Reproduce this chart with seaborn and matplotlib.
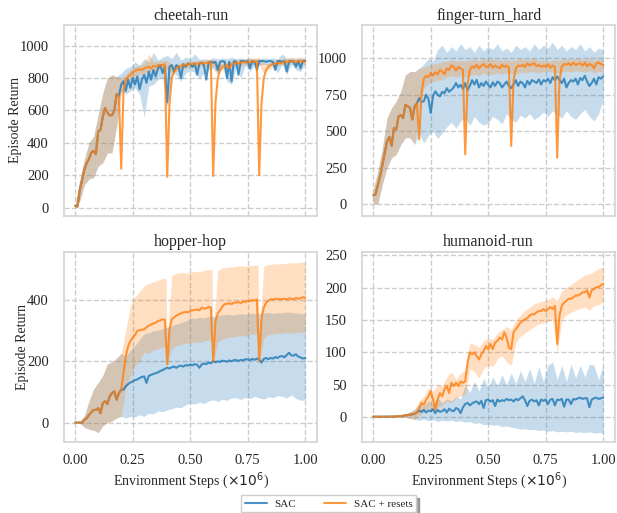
import numpy as np
import matplotlib
matplotlib.use("Agg")
import matplotlib.pyplot as plt
import seaborn as sns

# === x positions (env steps, x1e6) ===
steps = np.round(np.arange(101) * 0.01, 2)       # mean curves
band_steps = np.round(np.arange(51) * 0.02, 2)   # shaded bands
# hopper resets band has a few extra points around the reset dips
hopper_reset_band_x = np.sort(np.concatenate(
    [band_steps, [0.395, 0.405, 0.595, 0.605, 0.795, 0.805]]))

# === cheetah-run ===
cheetah_shared = [10, 5, 110, 170, 235, 275, 300, 340, 350, 330,
                  470, 480, 560, 615, 585, 570, 570, 600, 700, 690]
cheetah_sac = [760, 780, 720, 790, 740, 800, 760, 810, 730, 790,
               820, 770, 840, 790, 850, 810, 860, 880, 830, 870,
               650, 870, 880, 840, 880, 870, 800, 885, 870, 890,
               885, 870, 890, 820, 890, 895, 880, 790, 895, 900,
               895, 900, 850, 900, 905, 900, 800, 900, 780, 905,
               900, 820, 905, 905, 900, 905, 860, 905, 900, 850,
               905, 905, 905, 900, 905, 905, 900, 850, 905, 905,
               900, 905, 840, 905, 905, 900, 870, 905, 860, 905,
               905]
cheetah_reset = [240, 720, 790, 810, 820, 835, 845, 850, 855, 850,
                 860, 865, 870, 860, 875, 870, 880, 875, 880, 885,
                 190, 640, 800, 840, 860, 870, 875, 880, 880, 885,
                 885, 890, 885, 890, 890, 895, 890, 895, 895, 900,
                 195, 650, 800, 850, 870, 875, 880, 860, 885, 890,
                 895, 890, 895, 900, 895, 900, 900, 905, 900, 905,
                 200, 640, 800, 850, 870, 880, 885, 890, 895, 890,
                 895, 900, 900, 905, 900, 905, 900, 905, 905, 900,
                 900]
cheetah_band_lo_shared = [0, 40, 140, 175, 185, 256, 277, 338, 338, 500]
cheetah_band_hi_shared = [20, 170, 300, 400, 440, 575, 708, 800, 820, 810]
cheetah_sac_lo = [720, 700, 720, 740, 700, 560, 750, 760, 790, 800,
                  620, 830, 820, 780, 830, 845, 835, 800, 830, 850,
                  860, 820, 870, 780, 760, 870, 800, 880, 840, 880,
                  880, 885, 880, 885, 830, 885, 820, 885, 850, 840,
                  885]
cheetah_sac_hi = [830, 860, 870, 900, 880, 920, 900, 960, 910, 930,
                  940, 920, 960, 910, 930, 920, 950, 915, 920, 915,
                  925, 920, 925, 920, 930, 920, 925, 920, 925, 920,
                  920, 925, 920, 925, 920, 950, 920, 925, 920, 925,
                  920]
cheetah_reset_lo = [700, 760, 790, 810, 820, 830, 840, 840, 850, 860,
                    855, 830, 840, 850, 860, 865, 865, 870, 870, 875,
                    870, 830, 850, 860, 865, 875, 875, 880, 880, 885,
                    880, 830, 850, 865, 875, 880, 885, 885, 885, 890,
                    885]
cheetah_reset_hi = [800, 820, 850, 870, 880, 890, 950, 900, 905, 910,
                    910, 880, 880, 895, 900, 905, 905, 910, 910, 915,
                    915, 890, 890, 900, 905, 915, 915, 920, 920, 925,
                    925, 890, 890, 905, 915, 920, 925, 925, 925, 930,
                    920]

# === finger-turn_hard ===
finger_shared = [60, 65, 130, 190, 270, 350, 430, 460, 400, 520,
                 510, 600, 610, 590, 680, 670, 660, 580, 670, 690]
finger_sac = [727, 700, 705, 750, 720, 625, 740, 773, 750, 739,
              770, 760, 795, 770, 784, 800, 830, 800, 818, 790,
              830, 780, 810, 850, 820, 852, 800, 830, 810, 840,
              818, 800, 835, 810, 840, 830, 800, 820, 840, 810,
              795, 820, 850, 810, 840, 830, 800, 845, 820, 850,
              841, 830, 855, 820, 850, 841, 860, 830, 870, 850,
              875, 850, 830, 860, 800, 830, 850, 840, 860, 820,
              864, 850, 880, 840, 810, 830, 860, 820, 870, 860,
              875]
finger_reset = [443, 760, 860, 880, 870, 898, 880, 905, 890, 920,
                909, 890, 930, 920, 950, 943, 915, 940, 930, 920,
                341, 820, 920, 945, 935, 955, 930, 950, 960, 940,
                943, 960, 935, 950, 940, 932, 955, 940, 950, 935,
                398, 850, 930, 950, 945, 955, 940, 965, 950, 960,
                966, 945, 955, 940, 950, 943, 960, 935, 950, 940,
                318, 850, 945, 960, 955, 966, 950, 970, 955, 960,
                966, 950, 970, 945, 960, 955, 930, 965, 970, 960,
                955]
finger_band_lo_shared = [0, 0, 136, 250, 318, 340, 409, 455, 455, 409]
finger_band_hi_shared = [100, 227, 386, 590, 660, 705, 773, 886, 909, 909]
finger_sac_lo = [480, 420, 470, 500, 450, 488, 530, 560, 520, 570,
                 590, 540, 600, 560, 540, 557, 600, 580, 550, 620,
                 580, 560, 610, 590, 620, 580, 600, 630, 602, 640,
                 610, 590, 640, 600, 580, 620, 650, 600, 570, 620,
                 716]
finger_sac_hi = [930, 960, 1000, 980, 1060, 1090, 1040, 1080, 1050, 1100,
                 1060, 1080, 1040, 1090, 1050, 1080, 1060, 1100, 1050, 1070,
                 1040, 1090, 1060, 1080, 1050, 1100, 1060, 1090, 1070, 1110,
                 1060, 1090, 1050, 1080, 1060, 1100, 1050, 1080, 1040, 1070,
                 1057]
finger_reset_lo = [680, 790, 830, 840, 850, 852, 870, 880, 870, 880,
                   870, 880, 890, 880, 900, 886, 890, 900, 890, 900,
                   895, 890, 905, 900, 910, 905, 900, 910, 909, 905,
                   900, 905, 910, 905, 915, 910, 905, 915, 900, 910,
                   909]
finger_reset_hi = [930, 940, 950, 960, 965, 977, 980, 990, 980, 985,
                   980, 990, 995, 985, 1000, 989, 995, 990, 985, 995,
                   980, 990, 1000, 990, 995, 1000, 985, 990, 977, 990,
                   985, 995, 1000, 990, 1000, 995, 990, 1000, 985, 995,
                   989]

# === hopper-hop ===
hopper_shared = [0, 0, 0, 0, 9, 14, 25, 33, 41, 41,
                 47, 30, 63, 69, 60, 85, 96, 101, 74, 96,
                 107]
hopper_sac = [107, 118, 125, 130, 134, 138, 140, 145, 148, 150,
              129, 152, 155, 158, 161, 163, 168, 170, 175, 178,
              176, 180, 182, 178, 183, 185, 182, 187, 185, 189,
              186, 190, 188, 178, 189, 192, 190, 195, 193, 200,
              196, 199, 197, 201, 200, 198, 202, 199, 203, 203,
              200, 204, 202, 206, 205, 203, 207, 204, 208, 205,
              195, 207, 210, 206, 210, 208, 213, 210, 215, 216,
              212, 220, 227, 218, 218, 222, 214, 212, 208, 210]
hopper_reset = [161, 216, 248, 265, 276, 285, 298, 300, 302, 303,
                310, 315, 319, 322, 325, 330, 332, 336, 334, 189,
                303, 336, 342, 348, 352, 355, 358, 360, 358, 363,
                365, 366, 368, 365, 374, 370, 372, 376, 374, 200,
                330, 355, 365, 378, 385, 386, 388, 385, 390, 390,
                392, 388, 394, 392, 396, 395, 398, 397, 400, 200,
                340, 374, 390, 396, 401, 400, 403, 401, 402, 401,
                403, 400, 404, 402, 401, 405, 403, 404, 408, 406]
hopper_band_lo_shared = [0, -2, -16, -22, -25, -33, -11, 0, 5, 15, 20]
hopper_band_hi_shared = [0, 3, 22, 70, 109, 130, 153, 191, 196, 210, 225]
hopper_sac_lo = [15, 20, 18, 25, 20, 30, 28, 38, 35, 41,
                 45, 50, 48, 58, 63, 60, 66, 62, 70, 74,
                 68, 76, 72, 80, 80, 75, 82, 78, 85, 80,
                 76, 84, 80, 88, 85, 80, 90, 78, 72, 74]
hopper_sac_hi = [215, 235, 250, 270, 289, 292, 298, 300, 305, 310,
                 315, 320, 325, 330, 341, 338, 342, 340, 346, 345,
                 348, 350, 352, 350, 352, 354, 352, 356, 354, 355,
                 356, 358, 355, 358, 357, 360, 358, 356, 355, 353]
hopper_reset_lo = [110, 150, 185, 200, 229, 225, 235, 240, 245,
                   246, 180, 200,
                   240, 250, 255, 258, 259, 262, 260, 266, 268,
                   268, 190, 210,
                   262, 272, 276, 278, 280, 283, 280, 286, 288,
                   288, 190, 215,
                   275, 285, 288, 290, 290, 293, 290, 292, 295, 290]
hopper_reset_hi = [300, 380, 410, 425, 445, 452, 458, 463, 468,
                   470, 200, 330,
                   478, 485, 488, 486, 488, 492, 490, 495, 497,
                   498, 210, 340,
                   495, 503, 505, 506, 508, 510, 508, 511, 512,
                   512, 210, 340,
                   508, 514, 516, 515, 518, 517, 520, 519, 522, 521]

# === humanoid-run ===
humanoid_shared = [0.5, 0.5, 0.5, 0.5, 0.5, 0.5, 0.6, 0.6, 0.7, 0.8,
                   1.0, 1.2, 1.5, 2, 2.5, 3, 3.5, 4, 5, 7]
humanoid_sac = [10, 8, 11, 7, 10, 9, 12, 6, 11, 8,
                9, 12, 7, 13, 10, 9, 14, 12, 6, 15,
                20, 22, 18, 21, 23, 24, 20, 25, 14, 26,
                27, 24, 26, 17, 27, 24, 26, 25, 28, 26,
                27, 24, 28, 26, 29, 32, 26, 17, 25, 27,
                24, 26, 18, 27, 25, 27, 20, 27, 28, 18,
                27, 26, 28, 16, 27, 27, 20, 28, 27, 29,
                30, 28, 29, 29, 15, 27, 29, 30, 28, 29,
                30]
humanoid_reset = [14, 22, 19, 27, 32, 40, 27, 11, 27, 37,
                  32, 43, 48, 37, 53, 48, 53, 48, 55, 53,
                  55, 84, 100, 97, 100, 94, 89, 97, 102, 110,
                  105, 113, 105, 115, 118, 123, 120, 131, 123, 107,
                  105, 131, 136, 141, 146, 149, 151, 153, 157, 159,
                  159, 162, 164, 164, 167, 164, 167, 170, 167, 172,
                  113, 157, 172, 177, 180, 183, 183, 185, 188, 188,
                  190, 193, 193, 196, 185, 196, 198, 201, 201, 204,
                  206]
humanoid_band_lo_shared = [0, 0, 0, 0, 0, 0, 0, -0.5, -2, -4]
humanoid_band_hi_shared = [1, 1, 1, 1, 1, 1.5, 2, 5, 8, 12]
humanoid_sac_lo = [-5, -3, -6, -4, -7, -5, -6, -5, -7, -6,
                   -8, -7, -10, -9, -12, -11, -13, -12, -15, -14,
                   -16, -17, -19, -18, -20, -19, -21, -20, -22, -21,
                   -23, -22, -23, -22, -24, -23, -24, -23, -25, -24,
                   -25]
humanoid_sac_hi = [20, 18, 25, 20, 30, 22, 28, 25, 32, 28,
                   50, 38, 55, 40, 60, 45, 62, 48, 65, 50,
                   68, 52, 72, 55, 75, 52, 78, 55, 80, 85,
                   58, 80, 55, 82, 60, 80, 62, 82, 80, 58,
                   80]
humanoid_reset_lo = [2, 8, 15, 10, 15, 18, 25, 22, 30, 32,
                     35, 75, 70, 60, 75, 80, 78, 90, 95, 85,
                     80, 115, 125, 130, 135, 140, 144, 146, 148, 150,
                     100, 150, 158, 162, 165, 168, 170, 165, 172, 174,
                     178]
humanoid_reset_hi = [25, 32, 45, 40, 50, 48, 62, 70, 58, 68,
                     72, 115, 112, 108, 118, 122, 120, 130, 135, 140,
                     135, 150, 158, 165, 170, 175, 178, 180, 182, 186,
                     180, 195, 200, 205, 210, 215, 220, 222, 225, 230,
                     232]

tasks = [
    ("cheetah-run", cheetah_shared, cheetah_sac, cheetah_reset,
     cheetah_band_lo_shared, cheetah_band_hi_shared,
     cheetah_sac_lo, cheetah_sac_hi, cheetah_reset_lo, cheetah_reset_hi,
     band_steps, (-51, 1127), [0, 200, 400, 600, 800, 1000]),
    ("finger-turn_hard", finger_shared, finger_sac, finger_reset,
     finger_band_lo_shared, finger_band_hi_shared,
     finger_sac_lo, finger_sac_hi, finger_reset_lo, finger_reset_hi,
     band_steps, (-80, 1227), [0, 250, 500, 750, 1000]),
    ("hopper-hop", hopper_shared, hopper_sac, hopper_reset,
     hopper_band_lo_shared, hopper_band_hi_shared,
     hopper_sac_lo, hopper_sac_hi, hopper_reset_lo, hopper_reset_hi,
     hopper_reset_band_x, (-64, 556), [0, 200, 400]),
    ("humanoid-run", humanoid_shared, humanoid_sac, humanoid_reset,
     humanoid_band_lo_shared, humanoid_band_hi_shared,
     humanoid_sac_lo, humanoid_sac_hi, humanoid_reset_lo, humanoid_reset_hi,
     band_steps, (-39, 256), [0, 50, 100, 150, 200, 250]),
]

BLUE = "#1f77b4"
ORANGE = "#ff7f0e"

# === style ===
sns.set_theme(style="whitegrid", rc={
    "grid.linestyle": "--",
    "grid.color": "#cccccc",
    "axes.edgecolor": "#d5d5d5",
})
plt.rcParams["font.family"] = ["Liberation Serif", "DejaVu Serif"]

fig, axes = plt.subplots(2, 2, figsize=(6.17, 5.13), dpi=100, sharex=True)
fig.subplots_adjust(left=0.104, right=0.997, top=0.951, bottom=0.138,
                    wspace=0.178, hspace=0.188)

for ax, (title, shared, sac, reset, lo_sh, hi_sh, s_lo, s_hi, r_lo, r_hi,
         r_band_x, ylim, yticks) in zip(axes.flat, tasks):
    sac_mean = shared + sac
    reset_mean = shared + reset
    ax.fill_between(band_steps, lo_sh + s_lo, hi_sh + s_hi,
                    color=BLUE, alpha=0.25, linewidth=0)
    ax.fill_between(r_band_x, lo_sh + r_lo, hi_sh + r_hi,
                    color=ORANGE, alpha=0.25, linewidth=0)
    sns.lineplot(x=steps, y=sac_mean, ax=ax, color=BLUE, alpha=0.8,
                 linewidth=1.5, label="SAC")
    sns.lineplot(x=steps, y=reset_mean, ax=ax, color=ORANGE, alpha=0.8,
                 linewidth=1.5, label="SAC + resets")
    if ax.get_legend() is not None:
        ax.get_legend().remove()
    ax.set_title(title, fontsize=11.5, pad=4)
    ax.set_xlim(-0.048, 1.052)
    ax.set_ylim(*ylim)
    ax.set_yticks(yticks)
    ax.set_xticks([0, 0.25, 0.5, 0.75, 1.0])
    ax.tick_params(axis="y", labelsize=10.5, pad=5)
    ax.tick_params(axis="x", labelsize=10.5, pad=2.5)
    ax.set_xlabel("")
    ax.set_ylabel("")

for ax in axes[:, 0]:
    ax.set_ylabel("Episode Return", fontsize=10, labelpad=-1.5)
for ax in axes[1, :]:
    ax.set_xlabel(r"Environment Steps ($\times 10^6$)", fontsize=10,
                  labelpad=2)

handles, labels = axes[0, 0].get_legend_handles_labels()
fig.legend(handles, labels, loc="lower center", bbox_to_anchor=(0.533, 0.0),
           ncol=2, fontsize=8, frameon=True, shadow=True, fancybox=False,
           edgecolor="#cccccc", columnspacing=2.5, handletextpad=0.7,
           borderpad=0.3, borderaxespad=0.1)

plt.savefig("out.png", dpi=100)
